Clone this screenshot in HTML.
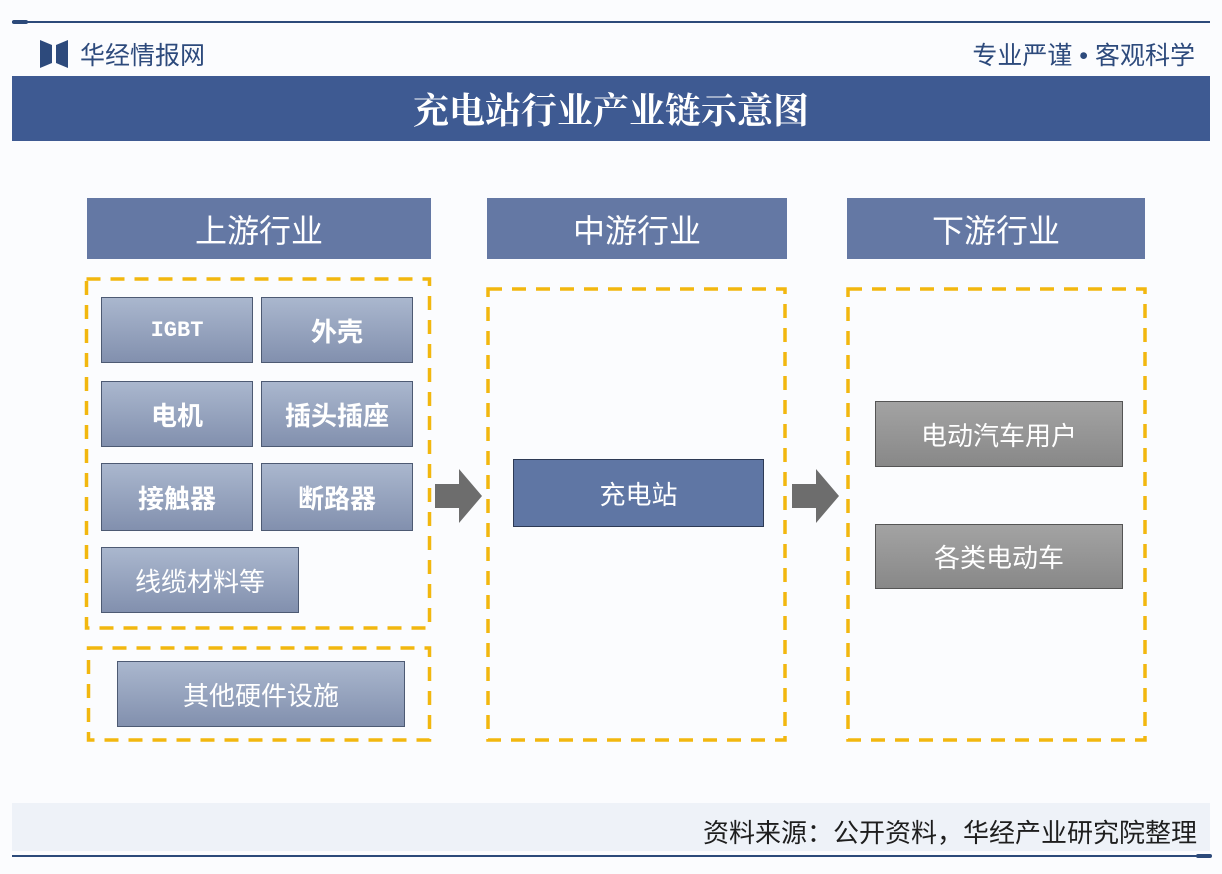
<!DOCTYPE html>
<html><head><meta charset="utf-8"><style>
*{margin:0;padding:0;box-sizing:border-box}
body{width:1222px;height:874px;background:#fbfcfe;position:relative;overflow:hidden;font-family:"Liberation Sans","Noto Sans CJK SC",sans-serif}
.a{position:absolute}
.c{display:flex;align-items:center;justify-content:center}
.hdr{background:#6478a4;color:#fff;font-size:32px}
.bx{background:linear-gradient(#aab7ce,#8290ae);border:1.5px solid #4d5a73;color:#fff;font-size:26px;font-weight:bold}
.gx{background:linear-gradient(#a3a3a3,#888);border:1.5px solid #555;color:#fff;font-size:26px}
</style></head><body>
<div class="a" style="left:12px;top:21px;width:1198px;height:2px;background:#2c4a7a"></div>
<div class="a" style="left:12px;top:20px;width:16px;height:4px;background:#2c4a7a;border-radius:2px"></div>
<svg class="a" style="left:40px;top:40px" width="28" height="28"><polygon points="0,0 12,5 12,23 0,28" fill="#2d4a7c"/><polygon points="28,0 16,5 16,23 28,28" fill="#2d4a7c"/></svg>
<div class="a" style="left:80px;top:36px;font-size:25px;color:#2d4a7c">华经情报网</div>
<div class="a" style="right:27px;top:36px;font-size:25px;color:#2d4a7c">专业严谨 • 客观科学</div>
<div class="a c" style="left:12px;top:76px;width:1198px;height:65px;background:#3e5a92;color:#fff;font-size:36px;font-weight:bold;font-family:'Noto Serif CJK SC',serif">充电站行业产业链示意图</div>

<div class="a c hdr" style="left:87px;top:198px;width:344px;height:61px">上游行业</div>
<div class="a c hdr" style="left:487px;top:198px;width:300px;height:61px">中游行业</div>
<div class="a c hdr" style="left:847px;top:198px;width:298px;height:61px">下游行业</div>

<svg class="a" style="left:0;top:0" width="1222" height="874" fill="none" stroke="#f2b70f" stroke-width="3.5" stroke-dasharray="14 10">
<rect x="86.5" y="279" width="343" height="349"/>
<rect x="88.5" y="648" width="341" height="92"/>
<rect x="488" y="289" width="297" height="451"/>
<rect x="848" y="289" width="297" height="451"/>
</svg>

<div class="a c bx" style="left:101px;top:297px;width:152px;height:66px;font-family:'Liberation Mono',monospace;font-size:22px">IGBT</div>
<div class="a c bx" style="left:261px;top:297px;width:152px;height:66px">外壳</div>
<div class="a c bx" style="left:101px;top:381px;width:152px;height:66px">电机</div>
<div class="a c bx" style="left:261px;top:381px;width:152px;height:66px">插头插座</div>
<div class="a c bx" style="left:101px;top:463px;width:152px;height:68px">接触器</div>
<div class="a c bx" style="left:261px;top:463px;width:152px;height:68px">断路器</div>
<div class="a c bx" style="left:101px;top:547px;width:198px;height:66px;font-weight:normal">线缆材料等</div>
<div class="a c bx" style="left:117px;top:661px;width:288px;height:66px;font-weight:normal">其他硬件设施</div>

<svg class="a" style="left:435px;top:469px" width="48" height="54"><polygon points="0,15 24,15 24,0 47,27 24,54 24,39 0,39" fill="#6d6d6d"/></svg>
<svg class="a" style="left:792px;top:469px" width="48" height="54"><polygon points="0,15 24,15 24,0 47,27 24,54 24,39 0,39" fill="#6d6d6d"/></svg>

<div class="a c" style="left:513px;top:459px;width:251px;height:68px;background:#5f76a4;border:1.5px solid #2d3a55;color:#fff;font-size:26px">充电站</div>
<div class="a c gx" style="left:875px;top:401px;width:248px;height:66px">电动汽车用户</div>
<div class="a c gx" style="left:875px;top:524px;width:248px;height:65px">各类电动车</div>

<div class="a" style="left:12px;top:803px;width:1198px;height:48px;background:#eef2f8"></div>
<div class="a" style="right:25px;top:813px;font-size:26px;color:#1e1e1e">资料来源：公开资料，华经产业研究院整理</div>
<div class="a" style="left:12px;top:855px;width:1198px;height:2px;background:#2c4a7a"></div>
<div class="a" style="left:1196px;top:854px;width:16px;height:4px;background:#2c4a7a;border-radius:2px"></div>
</body></html>
